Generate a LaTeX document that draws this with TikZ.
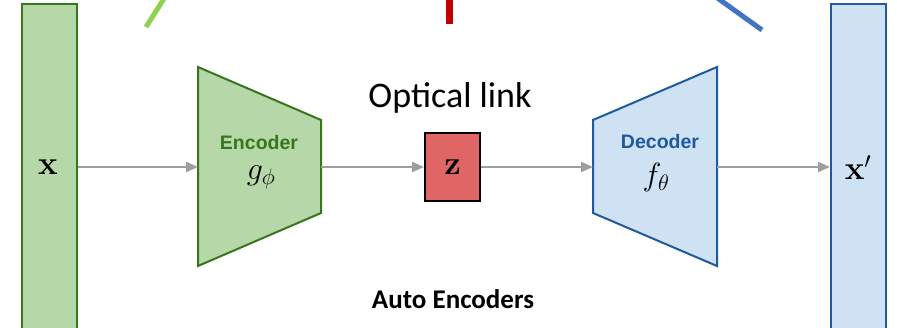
\RequirePackage{fix-cm}
\documentclass[tikz,border=0pt]{standalone}
\usepackage{fontspec}
\newfontfamily\carl{Carlito}
\newfontfamily\arialf{Liberation Sans}
\usetikzlibrary{arrows.meta}
\definecolor{encfill}{HTML}{B6D7A8}
\definecolor{encdraw}{HTML}{38761D}
\definecolor{decfill}{HTML}{CFE2F3}
\definecolor{decdraw}{HTML}{1F5A9C}
\definecolor{zfill}{HTML}{E06666}
\definecolor{arrgray}{HTML}{9E9E9E}
\definecolor{slgreen}{HTML}{92D050}
\definecolor{slred}{HTML}{C00000}
\definecolor{slblue}{HTML}{4472C4}
\begin{document}
\begin{tikzpicture}[x=1pt,y=-1pt,
  bar/.style={rectangle, line width=2pt, minimum width=55pt, minimum height=326pt, inner sep=0pt},
  arr/.style={draw=arrgray, line width=2pt, -{Triangle[length=12pt,width=10pt]}},
  mathlbl/.style={font=\fontsize{32}{34}\selectfont, inner sep=0pt, anchor=base},
  boldlbl/.style={font=\fontsize{33}{35}\selectfont\bfseries, inner sep=0pt, anchor=base},
  boxlbl/.style={font=\arialf\bfseries\fontsize{19.5}{22}\selectfont, inner sep=0pt, anchor=base},
  slash/.style={line cap=butt}]
\useasboundingbox (0,0) rectangle (897,328);
\clip (0,0) rectangle (897,328);
% slashes at top
\draw[slash, draw=slgreen, line width=5pt] (146,27) -- (165,-3);
\draw[slash, draw=slred, line width=7pt] (449.5,-3) -- (449.5,24);
\draw[slash, draw=slblue, line width=5pt] (716,-3) -- (762,30);
% bars
\node[bar, fill=encfill, draw=encdraw] (xin) at (49.5,167) {};
\node[bar, fill=decfill, draw=decdraw] (xout) at (858.5,167) {};
\node[boldlbl] (xinlbl) at (48,175) {x};
\node[boldlbl] (xoutlbl) at (858,180) {x$'$};
% encoder
\draw[fill=encfill, draw=encdraw, line width=2pt, line join=miter]
  (198,67) -- (321,120) -- (321,213) -- (198,266) -- cycle;
\coordinate (encin) at (198,167);
\coordinate (encout) at (321,167);
\node[boxlbl, text=encdraw] (enclbl) at (259,150) {Encoder};
\node[mathlbl] (gphi) at (261,180) {$g_\phi$};
% decoder
\draw[fill=decfill, draw=decdraw, line width=2pt, line join=miter]
  (593,120) -- (717,67) -- (717,266) -- (593,213) -- cycle;
\coordinate (decin) at (593,167);
\coordinate (decout) at (717,167);
\node[boxlbl, text=decdraw] (declbl) at (660,149) {Decoder};
\node[mathlbl] (fth) at (656,186) {$f_\theta$};
% latent z
\node[rectangle, fill=zfill, draw=black, line width=2pt, minimum width=55pt, minimum height=68pt, inner sep=0pt] (z) at (452.5,167) {};
\node[boldlbl] (zlbl) at (452.5,175) {z};
% arrows
\draw[arr] (xin.east) -- (encin);
\draw[arr] (encout) -- (z.west);
\draw[arr] (z.east) -- (decin);
\draw[arr] (decout) -- (xout.west);
% texts
\node[font=\carl\fontsize{36}{40}\selectfont, inner sep=0pt, anchor=base] (optical) at (450,108) {Optical link};
\node[font=\carl\bfseries\fontsize{27}{30}\selectfont, inner sep=0pt, anchor=base] (title) at (453,309) {Auto Encoders};
\end{tikzpicture}
\end{document}
